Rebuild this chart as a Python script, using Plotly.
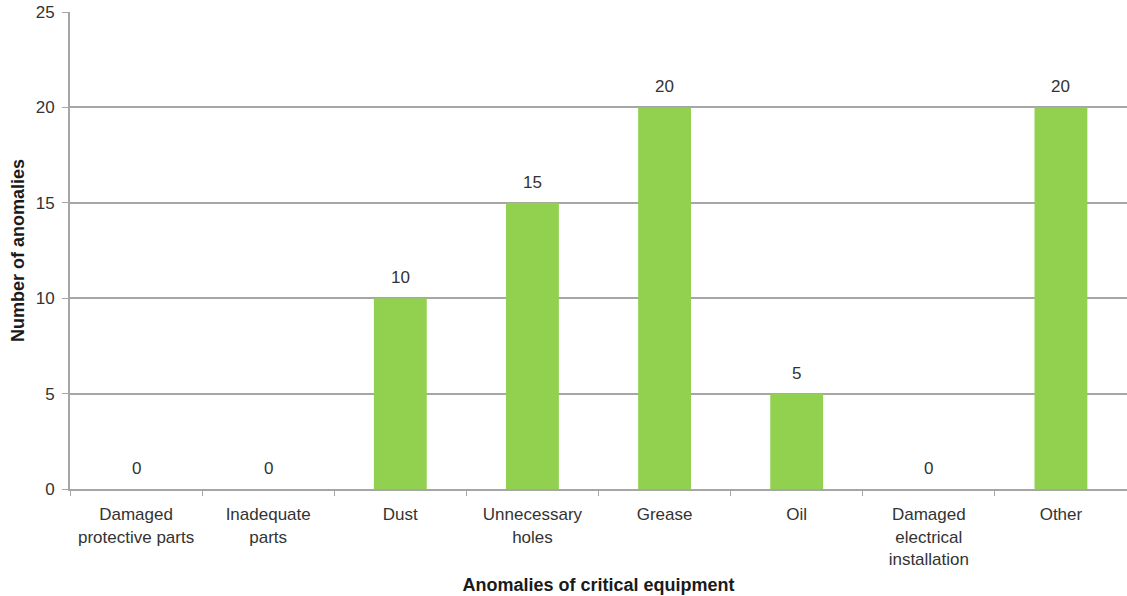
import plotly.graph_objects as go

categories = ["Damaged<br>protective parts", "Inadequate<br>parts", "Dust", "Unnecessary<br>holes",
              "Grease", "Oil", "Damaged<br>electrical<br>installation", "Other"]
values = [0, 0, 10, 15, 20, 5, 0, 20]
y_ticks = [0, 5, 10, 15, 20, 25]

FONT = "Liberation Sans, Arial, sans-serif"
TXT = "#333333"

fig = go.Figure()
fig.add_trace(go.Bar(x=categories, y=values, marker=dict(color="#92D050", line=dict(width=0)),
                     width=0.4, showlegend=False))

for c, v in zip(categories, values):
    fig.add_annotation(x=c, y=v, text=str(v), showarrow=False, yanchor="bottom", yshift=9,
                       font=dict(family=FONT, size=17, color=TXT))

fig.update_layout(
    width=1127, height=596,
    margin=dict(l=70, r=0, t=12, b=107),
    paper_bgcolor="white", plot_bgcolor="white",
    font=dict(family=FONT, size=17, color=TXT),
    bargap=0.6,
)
fig.update_xaxes(
    showline=True, linecolor="#a6a6a6", linewidth=2,
    ticks="outside", ticklen=5, tickcolor="#a6a6a6", tickwidth=1,
    tickson="boundaries", showgrid=False, ticklabelstandoff=9,
    tickfont=dict(family=FONT, size=17, color=TXT),
    title=dict(text="<b>Anomalies of critical equipment</b>", font=dict(family=FONT, size=18, color="#1a1a1a"), standoff=11),
)
fig.update_yaxes(
    range=[0, 25], tickvals=y_ticks,
    showline=True, linecolor="#a6a6a6", linewidth=2,
    ticks="outside", ticklen=6, tickcolor="#a6a6a6", ticklabelstandoff=4,
    showgrid=True, gridcolor="#a6a6a6", gridwidth=2, zeroline=False,
    tickfont=dict(family=FONT, size=17, color=TXT),
    title=dict(text="<b>Number of anomalies</b>", font=dict(family=FONT, size=18, color="#1a1a1a"), standoff=6),
)

fig.write_html("out.html")
